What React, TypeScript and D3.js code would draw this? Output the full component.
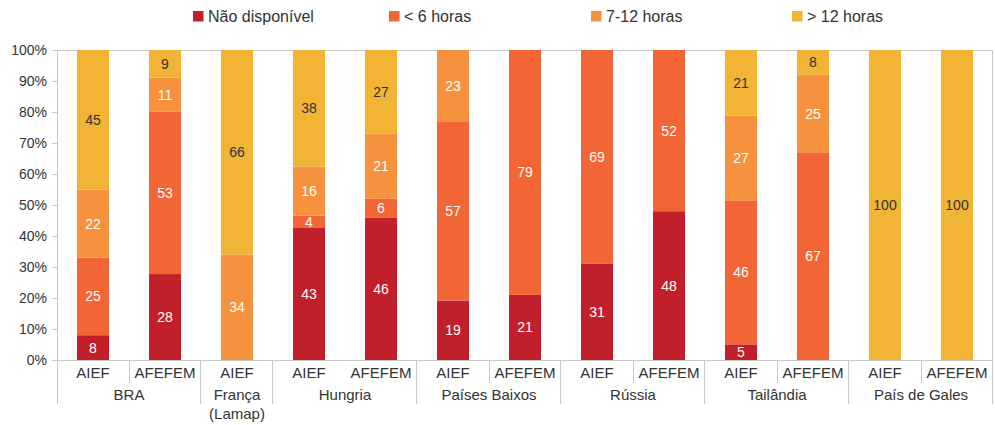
import React from "react";
import * as d3 from "d3";

const bars = ["BRA-AIEF", "BRA-AFEFEM", "FRA-AIEF", "HUN-AIEF", "HUN-AFEFEM", "NL-AIEF", "NL-AFEFEM", "RUS-AIEF", "RUS-AFEFEM", "THA-AIEF", "THA-AFEFEM", "WAL-AIEF", "WAL-AFEFEM"];
const barLabels = ["AIEF", "AFEFEM", "AIEF", "AIEF", "AFEFEM", "AIEF", "AFEFEM", "AIEF", "AFEFEM", "AIEF", "AFEFEM", "AIEF", "AFEFEM"];
const groups = [
  { name: ["BRA"], start: 0, count: 2, inner: true },
  { name: ["França", "(Lamap)"], start: 2, count: 1, inner: false },
  { name: ["Hungria"], start: 3, count: 2, inner: false },
  { name: ["Países Baixos"], start: 5, count: 2, inner: true },
  { name: ["Rússia"], start: 7, count: 2, inner: true },
  { name: ["Tailândia"], start: 9, count: 2, inner: true },
  { name: ["País de Gales"], start: 11, count: 2, inner: true },
];
const seriesNames = ["Não disponível", "< 6 horas", "7-12 horas", "> 12 horas"];
const naoDisponivel = [8, 28, 0, 43, 46, 19, 21, 31, 48, 5, 0, 0, 0];
const menos6 = [25, 53, 0, 4, 6, 57, 79, 69, 52, 46, 67, 0, 0];
const de7a12 = [22, 11, 34, 16, 21, 23, 0, 0, 0, 27, 25, 0, 0];
const mais12 = [45, 9, 66, 38, 27, 0, 0, 0, 0, 21, 8, 100, 100];
const yTicks = [0, 0.1, 0.2, 0.3, 0.4, 0.5, 0.6, 0.7, 0.8, 0.9, 1];

const colors = ["#C1202A", "#F26535", "#F6923D", "#F1B434"];
const labelColors = ["#ffffff", "#ffffff", "#ffffff", "#333333"];

export default function App() {
  const W = 995, H = 425;
  const L = 57, R = 993, T = 50, B = 360;
  const font = "Liberation Sans, Arial, Helvetica, sans-serif";
  const seriesData = [naoDisponivel, menos6, de7a12, mais12];
  const table = bars.map((b, i) => {
    const o: any = { key: b };
    seriesNames.forEach((s, j) => (o[s] = seriesData[j][i]));
    return o;
  });
  const stacked = d3.stack().keys(seriesNames).offset(d3.stackOffsetExpand)(table);
  const x = d3.scaleBand().domain(bars).range([L, R]).paddingInner(0.556).paddingOuter(0.278);
  const step = x.step();
  const y = d3.scaleLinear().domain([0, 1]).range([B, T]);
  const textColor = "#333333";
  const gridColor = "#c8c8c8";
  const legendX = [193, 389, 591, 792];

  return (
    <svg width={W} height={H} style={{ position: "absolute", left: 0, top: 0 }} fontFamily={font}>
      <rect width={W} height={H} fill="#fff" />
      {/* frame */}
      <line x1={L} x2={R} y1={T + 0.5} y2={T + 0.5} stroke={gridColor} />
      <line x1={R - 0.5} x2={R - 0.5} y1={T} y2={B} stroke={gridColor} />
      {/* bars */}
      {stacked.map((s, si) => (
        <g key={si}>
          {s.map((d, i) => {
            const v = seriesData[si][i];
            if (!v) return null;
            const y0 = y(d[0]), y1 = y(d[1]);
            const xb = x(bars[i]) as number;
            return (
              <g key={i}>
                <rect x={xb} y={y1} width={x.bandwidth()} height={y0 - y1} fill={colors[si]} />
                <text x={xb + x.bandwidth() / 2} y={(y0 + y1) / 2} dy="0.36em" textAnchor="middle" fontSize={14} fill={labelColors[si]}>{v}</text>
              </g>
            );
          })}
        </g>
      ))}
      {/* y axis */}
      <line x1={L + 0.5} x2={L + 0.5} y1={T} y2={404} stroke={gridColor} />
      {yTicks.map((t, i) => (
        <g key={i}>
          <line x1={L - 5} x2={L} y1={y(t) + 0.5} y2={y(t) + 0.5} stroke={gridColor} />
          <text x={L - 10} y={y(t)} dy="0.36em" textAnchor="end" fontSize={14} fill={textColor}>{d3.format(".0%")(t)}</text>
        </g>
      ))}
      {/* x axis */}
      <line x1={L} x2={R} y1={B + 0.5} y2={B + 0.5} stroke={gridColor} />
      {bars.map((b, i) => (
        <text key={b} x={(x(b) as number) + x.bandwidth() / 2} y={373} dy="0.36em" textAnchor="middle" fontSize={15} fill={textColor}>{barLabels[i]}</text>
      ))}
      {groups.map((g, gi) => {
        const x0 = L + g.start * step;
        const x1 = L + (g.start + g.count) * step;
        return (
          <g key={gi}>
            {g.inner && g.count === 2 && (
              <line x1={x0 + step + 0.5} x2={x0 + step + 0.5} y1={B} y2={383} stroke={gridColor} />
            )}
            <line x1={x1 - 0.5} x2={x1 - 0.5} y1={B} y2={404} stroke={gridColor} />
            {g.name.map((n, ni) => (
              <text key={ni} x={(x0 + x1) / 2} y={395 + ni * 19} dy="0.36em" textAnchor="middle" fontSize={15} fill={textColor}>{n}</text>
            ))}
          </g>
        );
      })}
      {/* legend */}
      {seriesNames.map((s, i) => (
        <g key={s}>
          <rect x={legendX[i]} y={11} width={10.5} height={10.5} fill={colors[i]} />
          <text x={legendX[i] + 15} y={16} dy="0.36em" fontSize={16} fill={textColor}>{s}</text>
        </g>
      ))}
    </svg>
  );
}
